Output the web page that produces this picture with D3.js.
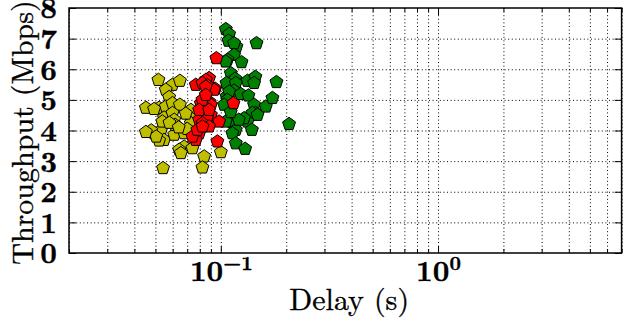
<!DOCTYPE html>
<html>
<head>
<meta charset="utf-8">
<script src="https://cdn.jsdelivr.net/npm/d3@7"></script>
<style>
  body { margin: 0; background: #fff; }
</style>
</head>
<body>
<script>
// delay (s), throughput (Mbps)
const yellowPts = [
  [0.0516,5.65],[0.0599,5.49],[0.0648,5.62],[0.0558,5.33],[0.0578,5.09],[0.0520,4.74],
  [0.0558,4.78],[0.0599,4.89],[0.0648,4.84],[0.0452,4.74],[0.0728,4.67],[0.0548,4.42],
  [0.0599,4.57],[0.0610,4.35],[0.0728,4.40],[0.0493,3.91],[0.0530,4.00],[0.0548,3.69],
  [0.0520,3.67],[0.0610,3.86],[0.0616,4.18],[0.0678,3.91],[0.0728,4.24],[0.0678,3.47],
  [0.0643,3.37],[0.0740,3.42],[0.0655,3.26],[0.0838,3.15],[0.1000,3.29],[0.0542,2.77],
  [0.0823,2.79],[0.0538,4.29],[0.0478,4.00],[0.0504,3.80],[0.0452,3.95],[0.0493,4.70],
  [0.0690,4.55],[0.0700,4.05],[0.0580,4.25],[0.0640,4.10]
];
const redPts = [
  [0.0954,6.36],[0.0883,5.71],[0.0853,5.65],[0.0767,5.49],[0.0942,5.36],[0.0823,5.55],
  [0.0867,5.47],[0.0931,5.33],[0.0809,4.89],[0.0883,4.94],[0.0900,4.84],[0.0838,4.78],
  [0.0823,4.62],[0.0900,4.51],[0.0838,4.40],[0.0795,4.35],[0.0867,4.24],[0.0982,4.29],
  [0.0823,5.00],[0.0867,4.45],[0.0823,4.24],[0.0883,4.13],[0.1143,4.89],[0.0964,3.64],
  [0.0795,3.91],[0.0767,3.69],[0.0740,3.80],[0.0780,4.02],[0.0823,4.13],[0.0853,5.43],
  [0.0853,5.16],[0.0795,4.67],[0.0883,4.67]
];
const greenPts = [
  [0.1054,7.31],[0.1092,7.15],[0.1084,6.93],[0.1180,6.74],[0.1151,6.85],[0.1460,6.85],
  [0.1151,6.47],[0.1072,6.31],[0.1054,6.25],[0.1245,6.23],[0.1112,5.87],[0.1165,5.69],
  [0.1326,5.62],[0.1442,5.75],[0.1803,5.58],[0.1063,5.55],[0.1172,5.55],[0.1423,5.55],
  [0.1151,5.30],[0.1236,5.19],[0.1340,5.14],[0.1063,5.11],[0.1092,5.27],[0.1072,5.00],
  [0.1035,4.84],[0.1423,4.84],[0.1611,4.78],[0.1728,5.06],[0.1449,4.57],[0.1397,4.57],
  [0.1475,4.51],[0.1326,4.29],[0.1280,4.40],[0.1130,4.26],[0.1054,4.29],[0.1172,4.02],
  [0.1130,3.91],[0.1390,4.02],[0.2061,4.21],[0.1172,3.58],[0.1294,3.40],[0.1210,4.35],
  [0.1110,4.60]
];
const seriesColors = ['#008000', '#bfbf00', '#ff0000'];
const yTicks = [0, 1, 2, 3, 4, 5, 6, 7, 8];
const xMajor = [0.1, 1];
const xExponents = ['\u22121', '0'];
const xMinor = [0.02,0.03,0.04,0.05,0.06,0.07,0.08,0.09,0.2,0.3,0.4,0.5,0.6,0.7,0.8,0.9,2,3,4,5,6,7];

const W = 627, H = 326;
const margin = { top: 8, right: 5.4, bottom: 73, left: 69 };
const plotW = W - margin.left - margin.right;
const plotH = H - margin.top - margin.bottom;
const serif = '"Latin Modern Roman", "Liberation Serif", monospace';

const svg = d3.select('body').append('svg')
  .attr('width', W).attr('height', H);
const g = svg.append('g')
  .attr('transform', `translate(${margin.left},${margin.top})`);

const x = d3.scaleLog().domain([0.02, 7]).range([0, plotW]);
const y = d3.scaleLinear().domain([0, 8]).range([plotH, 0]);

// dotted grid
const grid = g.append('g').attr('class', 'grid');
grid.append('g')
  .call(d3.axisBottom(x).tickValues(xMajor.concat(xMinor)).tickSize(plotH).tickFormat(''));
grid.append('g')
  .call(d3.axisLeft(y).tickValues(yTicks.slice(1, -1)).tickSize(-plotW).tickFormat(''));
grid.selectAll('.domain').remove();
grid.selectAll('line')
  .attr('stroke', '#000').attr('stroke-width', 1).attr('stroke-dasharray', '1,2.6');

// markers
const R = 6.8;
const pentagon = d3.line()(d3.range(5).map(i => {
  const a = -Math.PI / 2 + i * 2 * Math.PI / 5;
  return [R * Math.cos(a), R * Math.sin(a)];
})) + 'Z';
[greenPts, yellowPts, redPts].forEach((pts, k) => {
  g.append('g').selectAll('path').data(pts).enter().append('path')
    .attr('d', pentagon)
    .attr('transform', d => `translate(${x(d[0])},${y(d[1])})`)
    .attr('fill', seriesColors[k])
    .attr('stroke', '#000')
    .attr('stroke-width', 1);
});

// inward ticks on all four sides
function styleTicks(sel) {
  sel.selectAll('.domain').remove();
  sel.selectAll('line').attr('stroke', '#000').attr('stroke-width', 1);
}
g.append('g').attr('transform', `translate(0,${plotH})`)
  .call(d3.axisBottom(x).tickValues(xMajor).tickSize(-7).tickFormat('')).call(styleTicks);
g.append('g').attr('transform', `translate(0,${plotH})`)
  .call(d3.axisBottom(x).tickValues(xMinor).tickSize(-4).tickFormat('')).call(styleTicks);
g.append('g')
  .call(d3.axisTop(x).tickValues(xMajor).tickSize(-7).tickFormat('')).call(styleTicks);
g.append('g')
  .call(d3.axisTop(x).tickValues(xMinor).tickSize(-4).tickFormat('')).call(styleTicks);
g.append('g').attr('transform', `translate(${plotW},0)`)
  .call(d3.axisRight(y).tickValues(yTicks).tickSize(-7).tickFormat('')).call(styleTicks);

const yAxis = g.append('g')
  .call(d3.axisLeft(y).tickValues(yTicks).tickSize(-7).tickPadding(12).tickFormat(d3.format('d')));
yAxis.call(styleTicks);
yAxis.attr('font-family', serif).attr('font-size', 29);
yAxis.selectAll('text')
  .attr('fill', '#000')
  .attr('stroke', '#000').attr('stroke-width', 0.4)
  .attr('font-weight', 'bold')
  .attr('dy', '0.34em');

const xAxis = g.append('g').attr('transform', `translate(0,${plotH})`)
  .call(d3.axisBottom(x).tickValues(xMajor).tickSize(0).tickPadding(0).tickFormat(''));
xAxis.attr('font-family', serif).attr('font-size', 29);
xAxis.select('.domain').remove();
xAxis.selectAll('.tick').append('text')
  .attr('y', 28)
  .attr('text-anchor', 'middle')
  .attr('fill', '#000')
  .attr('stroke', '#000').attr('stroke-width', 0.4)
  .attr('font-weight', 'bold')
  .each(function (d, i) {
    const t = d3.select(this);
    t.append('tspan').text('10');
    t.append('tspan').attr('font-size', 20).attr('dy', -11).text(xExponents[i]);
  });

// frame
g.append('rect')
  .attr('width', plotW).attr('height', plotH)
  .attr('fill', 'none').attr('stroke', '#000').attr('stroke-width', 1.5);

// axis titles
svg.append('text')
  .attr('x', margin.left + x(0.39))
  .attr('y', 310)
  .attr('text-anchor', 'middle')
  .attr('font-family', serif)
  .attr('font-size', 30)
  .attr('stroke', '#000').attr('stroke-width', 0.35)
  .text('Delay (s)');
svg.append('text')
  .attr('transform', `translate(33,${margin.top + plotH / 2 + 2}) rotate(-90)`)
  .attr('text-anchor', 'middle')
  .attr('font-family', serif)
  .attr('font-size', 30)
  .attr('stroke', '#000').attr('stroke-width', 0.35)
  .text('Throughput (Mbps)');
</script>
</body>
</html>
